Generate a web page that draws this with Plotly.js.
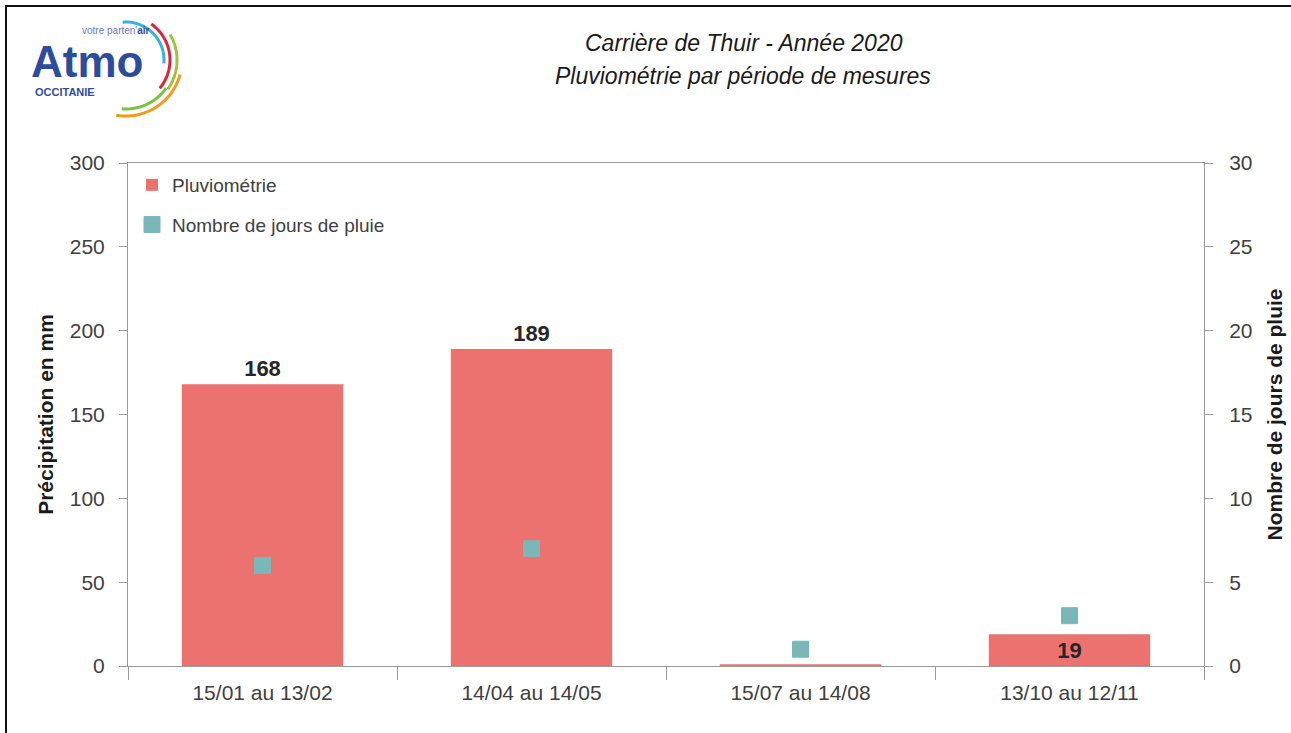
<!DOCTYPE html>
<html>
<head>
<meta charset="utf-8">
<script src="https://cdn.plot.ly/plotly-3.0.1.min.js"></script>
<style>
  html, body { margin: 0; padding: 0; background: #fff; }
  #wrap { position: relative; width: 1291px; height: 733px; }
  #chart { width: 1291px; height: 733px; }
  #frame { position: absolute; left: 5px; top: 5px; right: 0; bottom: 0;
           border-left: 2px solid #111; border-top: 2px solid #111; pointer-events: none; }
</style>
</head>
<body>
<div id="wrap"><div id="chart"></div><div id="frame"></div></div>
<script>
// ---- data ----
const periods = ['15/01 au 13/02', '14/04 au 14/05', '15/07 au 14/08', '13/10 au 12/11'];
const rainfall = [168, 189, 1, 19];          // Précipitation en mm
const rainDays = [6, 7, 1, 3];               // Nombre de jours de pluie
const yTicks = [0, 50, 100, 150, 200, 250, 300];
const y2Ticks = [0, 5, 10, 15, 20, 25, 30];

// labels: none on the near-zero bar, inside at base for the small bar
const rainText = rainfall.map(v => v >= 5 ? String(v) : '');
const rainTextPos = rainfall.map(v => v >= 5 && v < 40 ? 'inside' : (v >= 5 ? 'outside' : 'none'));

// ---- layout geometry helpers (pixel -> paper) ----
const W = 1291, H = 733;
const M = { l: 128, r: 87, t: 163, b: 67 };
const PW = W - M.l - M.r, PH = H - M.t - M.b;
const px = x => (x - M.l) / PW;
const py = y => (H - M.b - y) / PH;

function arcPath(cx, cy, r, a0, a1) {
  let d = '';
  const n = 24;
  for (let i = 0; i <= n; i++) {
    const a = (a0 + (a1 - a0) * i / n) * Math.PI / 180;
    const x = cx + r * Math.cos(a), y = cy + r * Math.sin(a);
    d += (i === 0 ? 'M' : 'L') + px(x).toFixed(5) + ',' + py(y).toFixed(5);
  }
  return d;
}

const logoArcs = [
  { r: 38, a0: -95, a1: 5, c: '#35B5DA' },
  { r: 44, a0: -55, a1: 40, c: '#D7263D' },
  { r: 51, a0: -30, a1: 35, c: '#9BC53D' },
  { r: 49, a0: 35, a1: 95, c: '#7CC142' },
  { r: 56, a0: 15, a1: 100, c: '#F29A1F' }
];
const shapes = logoArcs.map(a => ({
  type: 'path', xref: 'paper', yref: 'paper',
  path: arcPath(126, 60, a.r, a.a0, a.a1),
  line: { color: a.c, width: 3 }
}));

const textFont = "'Liberation Sans', Arial, sans-serif";
const narrowBold = "'Liberation Sans Narrow', 'Arial Narrow', 'Liberation Sans', Arial, sans-serif";

const traces = [
  {
    type: 'bar', name: 'Pluviométrie', x: periods, y: rainfall,
    marker: { color: '#EC7270' }, width: 0.6,
    text: rainText, textposition: rainTextPos, insidetextanchor: 'start',
    textfont: { family: textFont, size: 22, color: '#262626', weight: 'bold' },
    cliponaxis: false, legendgroup: 'a', hoverinfo: 'x+y'
  },
  {
    type: 'scatter', mode: 'markers', name: 'Nombre de jours de pluie', x: periods, y: rainDays,
    yaxis: 'y2',
    marker: { symbol: 'square', size: 16, color: '#7AB7B8', line: { width: 1, color: '#7AB7B8' } },
    legendgroup: 'b', hoverinfo: 'x+y'
  }
];

const layout = {
  width: W, height: H,
  margin: M,
  paper_bgcolor: '#fff', plot_bgcolor: '#fff',
  font: { family: textFont, size: 18, color: '#404040' },
  showlegend: true,
  legend: {
    x: px(132), y: py(166), xanchor: 'left', yanchor: 'top',
    bgcolor: 'rgba(0,0,0,0)', font: { family: textFont, size: 19, color: '#404040' },
    traceorder: 'grouped', tracegroupgap: 12, itemwidth: 30
  },
  xaxis: {
    type: 'category', showline: true, linecolor: '#9A9A9A', linewidth: 1, mirror: true,
    ticks: 'outside', tickson: 'boundaries', ticklen: 13, tickcolor: '#9A9A9A',
    ticklabelstandoff: 8,
    showgrid: false, zeroline: false,
    tickfont: { family: textFont, size: 21, color: '#404040' }
  },
  yaxis: {
    range: [0, 300], tickvals: yTicks, ticktext: yTicks.map(String),
    showline: true, linecolor: '#9A9A9A', linewidth: 1,
    ticks: 'outside', ticklen: 8, tickcolor: '#9A9A9A', ticklabelstandoff: 10,
    showgrid: false, zeroline: false,
    tickfont: { family: textFont, size: 21, color: '#404040' },
    title: { text: 'Précipitation en mm', standoff: 10,
             font: { family: narrowBold, size: 21, color: '#1a1a1a', weight: 'bold' } }
  },
  yaxis2: {
    overlaying: 'y', side: 'right', range: [0, 30], tickvals: y2Ticks, ticktext: y2Ticks.map(String),
    showline: true, linecolor: '#9A9A9A', linewidth: 1,
    ticks: 'outside', ticklen: 8, tickcolor: '#9A9A9A', ticklabelstandoff: 12,
    showgrid: false, zeroline: false,
    tickfont: { family: textFont, size: 21, color: '#404040' },
    title: { text: 'Nombre de jours de pluie', standoff: 15,
             font: { family: narrowBold, size: 21, color: '#1a1a1a', weight: 'bold' } }
  },
  shapes: shapes,
  annotations: [
    { xref: 'paper', yref: 'paper', x: px(744), y: py(43), xanchor: 'center', yanchor: 'middle',
      text: 'Carrière de Thuir - Année 2020', showarrow: false,
      font: { family: textFont, size: 23, color: '#1a1a1a', style: 'italic' } },
    { xref: 'paper', yref: 'paper', x: px(743), y: py(76), xanchor: 'center', yanchor: 'middle',
      text: 'Pluviométrie par période de mesures', showarrow: false,
      font: { family: textFont, size: 23, color: '#1a1a1a', style: 'italic' } },
    // logo text
    { xref: 'paper', yref: 'paper', x: px(29), y: py(61), xanchor: 'left', yanchor: 'middle',
      text: 'Atmo', showarrow: false,
      font: { family: textFont, size: 44, color: '#2D4C9C', weight: 'bold' } },
    { xref: 'paper', yref: 'paper', x: px(152), y: py(30), xanchor: 'right', yanchor: 'middle',
      text: 'votre parten\'<b style="color:#2D4C9C">air</b>', showarrow: false,
      font: { family: textFont, size: 10, color: '#6A7BB8' } },
    { xref: 'paper', yref: 'paper', x: px(33), y: py(92), xanchor: 'left', yanchor: 'middle',
      text: 'OCCITANIE', showarrow: false,
      font: { family: textFont, size: 11, color: '#2D4C9C', weight: 'bold' } }
  ]
};

Plotly.newPlot('chart', traces, layout, { displayModeBar: false, staticPlot: true });
</script>
</body>
</html>
